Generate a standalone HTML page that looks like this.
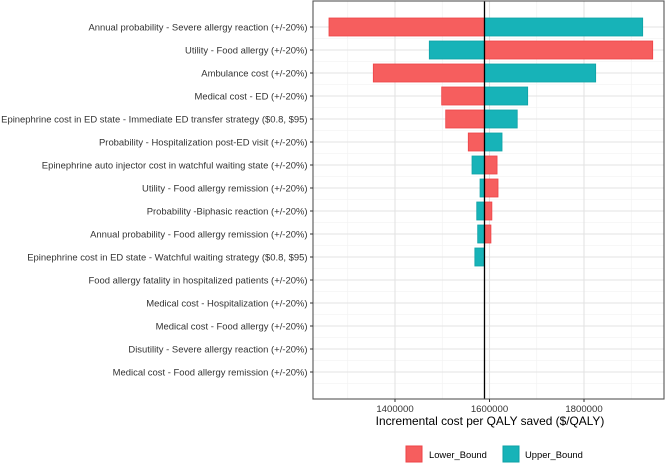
<!DOCTYPE html>
<html><head><meta charset="utf-8"><style>
body{margin:0;background:#fff;font-family:"Liberation Sans",Arial,sans-serif}
svg{display:block}
</style></head><body>
<svg id="chart" width="669" height="469"></svg>
<script>
const categories=["Annual probability - Severe allergy reaction (+/-20%)","Utility - Food allergy (+/-20%)","Ambulance cost (+/-20%)","Medical cost - ED (+/-20%)","Epinephrine cost in ED state - Immediate ED transfer strategy ($0.8, $95)","Probability - Hospitalization post-ED visit (+/-20%)","Epinephrine auto injector cost in watchful waiting state (+/-20%)","Utility - Food allergy remission (+/-20%)","Probability -Biphasic reaction (+/-20%)","Annual probability - Food allergy remission (+/-20%)","Epinephrine cost in ED state - Watchful waiting strategy ($0.8, $95)","Food allergy fatality in hospitalized patients (+/-20%)","Medical cost - Hospitalization (+/-20%)","Medical cost - Food allergy (+/-20%)","Disutility - Severe allergy reaction (+/-20%)","Medical cost - Food allergy remission (+/-20%)"];
const lowerBound=[1260300,1945400,1354100,1498800,1507300,1555100,1616000,1618000,1605000,1603000,1589400,1589400,1589400,1589400,1589400,1589400];
const upperBound=[1924200,1472600,1824700,1680800,1658700,1626500,1563000,1580000,1573000,1575000,1569000,1589400,1589400,1589400,1589400,1589400];
const baseValue=1589400;
const xTicks=[1400000,1600000,1800000];
const xMinor=[1300000,1500000,1700000,1900000];

const NS="http://www.w3.org/2000/svg";
const svg=document.getElementById('chart');
const L=313,R=664,T=1,B=399;
const x=v=>395+(v-1400000)*94.5/200000;
const y=i=>27+i*23;
function el(t,a,p){const e=document.createElementNS(NS,t);for(const k in a)e.setAttribute(k,a[k]);(p||svg).appendChild(e);return e;}
const bg=el('rect',{x:L,y:T,width:R-L,height:B-T,fill:'#fff'});


xMinor.forEach(v=>{const g=el('line',{x1:x(v),x2:x(v),y1:T,y2:B,stroke:'#f0f0f0','stroke-width':0.6});

});
categories.forEach((c,i)=>{const g=el('line',{x1:L,x2:R,y1:y(i)+11.5,y2:y(i)+11.5,stroke:'#f0f0f0','stroke-width':0.6});

});
xTicks.forEach(v=>{const g=el('line',{x1:x(v),x2:x(v),y1:T,y2:B,stroke:'#e3e3e3','stroke-width':1.1});

});
categories.forEach((c,i)=>{const g=el('line',{x1:L,x2:R,y1:y(i),y2:y(i),stroke:'#e3e3e3','stroke-width':1.1});

});
function bar(v,i,fill,stroke,name){const a=Math.min(x(v),x(baseValue)),w=Math.abs(x(v)-x(baseValue));if(w<0.5)return;
const r=el('rect',{x:a,y:y(i)-9,width:w,height:18,fill:fill,stroke:stroke,'stroke-width':0.8});

}
categories.forEach((c,i)=>{bar(lowerBound[i],i,'#F65E5E','#EE4347','bar-lower-bound');bar(upperBound[i],i,'#17B3B8','#0EA2A6','bar-upper-bound');});
const bl=el('line',{x1:x(baseValue),x2:x(baseValue),y1:T,y2:B,stroke:'#000','stroke-width':1.3});


const bd=el('rect',{x:L,y:T,width:R-L,height:B-T,fill:'none',stroke:'#555','stroke-width':1.1});


categories.forEach((c,i)=>{el('line',{x1:L-3,x2:L,y1:y(i),y2:y(i),stroke:'#333','stroke-width':1});
const t=el('text',{x:L-5.5,y:y(i)+3.5,'text-anchor':'end','font-size':'9.45',fill:'#333'});t.textContent=c;

});
xTicks.forEach(v=>{el('line',{x1:x(v),x2:x(v),y1:B,y2:B+3,stroke:'#333','stroke-width':1});
const t=el('text',{x:x(v),y:B+13,'text-anchor':'middle','font-size':'9.6',fill:'#333'});t.textContent=v;

});
const xt=el('text',{x:490,y:425,'text-anchor':'middle','font-size':'11.9',fill:'#000'});xt.textContent='Incremental cost per QALY saved ($/QALY)';


const lg=el('g',{});


el('rect',{x:406,y:446,width:16,height:16,fill:'#F65E5E',stroke:'#EE4347'},lg);
const t1=el('text',{x:429,y:458,'font-size':'9.4',fill:'#000'},lg);t1.textContent='Lower_Bound';


el('rect',{x:503,y:446,width:16,height:16,fill:'#17B3B8',stroke:'#0EA2A6'},lg);
const t2=el('text',{x:525,y:458,'font-size':'9.4',fill:'#000'},lg);t2.textContent='Upper_Bound';


</script>
</body></html>
